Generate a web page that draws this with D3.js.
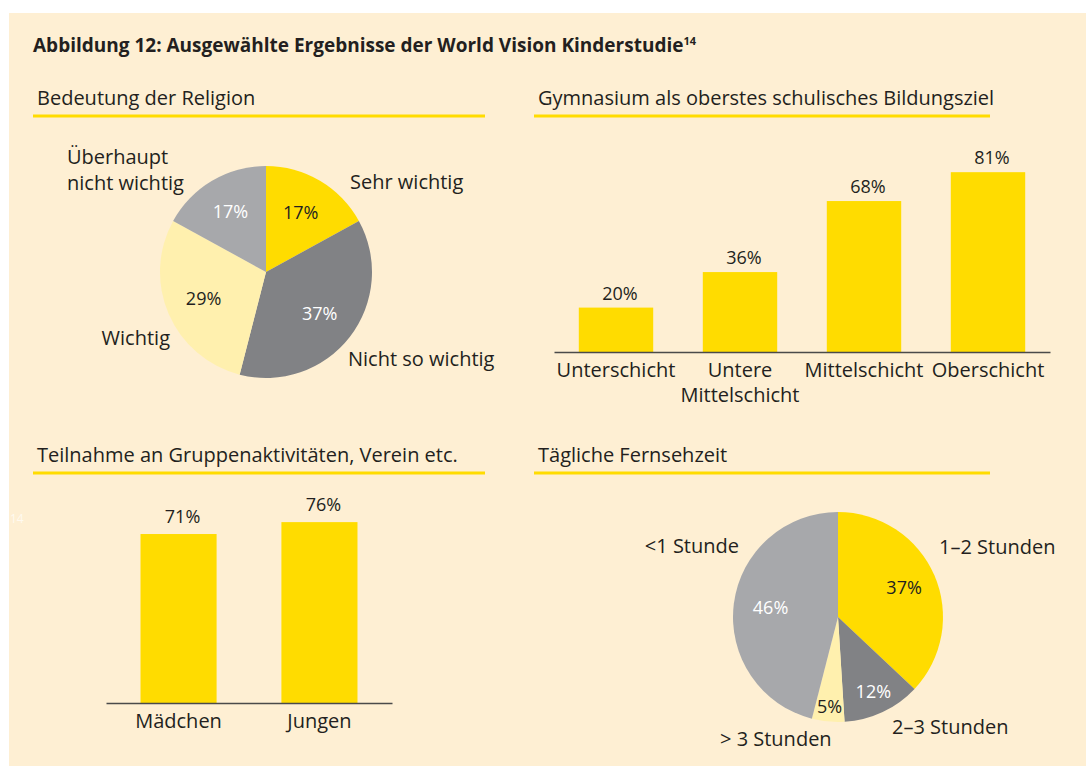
<!DOCTYPE html>
<html>
<head>
<meta charset="utf-8">
<script src="https://cdn.jsdelivr.net/npm/d3@7"></script>
<style>
  body { margin: 0; background: #fff; }
  svg text { font-family: "Open Sans", "Noto Sans", sans-serif; fill: #231f20; }
  .title { font-weight: bold; font-size: 19px; }
  .head { font-size: 20px; }
  .cat { font-size: 20px; }
  .val { font-size: 18px; }
  .axis path, .axis line { stroke: #4a4a4a; stroke-width: 1.5; }
</style>
</head>
<body>
<svg id="chart" width="1086" height="766"></svg>
<script>
// data
var religionLabels = ["Sehr wichtig", "Nicht so wichtig", "Wichtig", "Überhaupt\nnicht wichtig"];
var religionValues = [17, 37, 29, 17];

var schichtLabels = ["Unterschicht", "Untere\nMittelschicht", "Mittelschicht", "Oberschicht"];
var schichtValues = [20, 36, 68, 81];

var gruppeLabels = ["Mädchen", "Jungen"];
var gruppeValues = [71, 76];

var tvLabels = ["1–2 Stunden", "2–3 Stunden", "> 3 Stunden", "<1 Stunde"];
var tvValues = [37, 12, 5, 46];

var sliceColors = ["#ffdc00", "#818285", "#fff0ae", "#a7a8ab"];
var sliceText = ["#231f20", "#fff", "#231f20", "#fff"];

var svg = d3.select("#chart");

svg.append("rect")
  .attr("x", 9).attr("y", 13)
  .attr("width", 1077).attr("height", 753)
  .attr("fill", "#feefd3");

svg.append("text")
  .attr("class", "title")
  .attr("x", 33).attr("y", 52)
  .text("Abbildung 12: Ausgewählte Ergebnisse der World Vision Kinderstudie")
  .append("tspan")
  .attr("dy", -7).attr("font-size", "11px")
  .text("14");

// stray page number showing through
svg.append("text")
  .attr("x", 10).attr("y", 523)
  .attr("font-family", "DejaVu Serif")
  .style("font-size", "12px")
  .style("fill", "#fffaf0")
  .text("14");

function heading(x, y, w, txt) {
  svg.append("text").attr("class", "head").attr("x", x + 4).attr("y", y).text(txt);
  svg.append("line")
    .attr("x1", x).attr("x2", x + w)
    .attr("y1", y + 11).attr("y2", y + 11)
    .attr("stroke", "#ffdc00").attr("stroke-width", 3);
}

heading(33, 105, 452, "Bedeutung der Religion");
heading(534, 105, 456, "Gymnasium als oberstes schulisches Bildungsziel");
heading(33, 462, 452, "Teilnahme an Gruppenaktivitäten, Verein etc.");
heading(534, 462, 456, "Tägliche Fernsehzeit");

function multiLine(sel, txt, lh) {
  txt.split("\n").forEach(function (t, i) {
    sel.append("tspan").attr("x", sel.attr("x")).attr("dy", i ? lh : 0).text(t);
  });
}

// pies
function drawPie(cx, cy, r, labels, values, pctR, outer) {
  var g = svg.append("g").attr("transform", "translate(" + cx + "," + cy + ")");
  var pie = d3.pie().sort(null).value(function (d) { return d; });
  var arcs = pie(values);
  var arc = d3.arc().innerRadius(0).outerRadius(r);

  g.selectAll("path.slice")
    .data(arcs).enter().append("path")
    .attr("class", "slice")
    .attr("d", arc)
    .attr("fill", function (d, i) { return sliceColors[i]; });

  g.selectAll("text.pct")
    .data(arcs).enter().append("text")
    .attr("class", "val")
    .attr("text-anchor", "middle")
    .attr("transform", function (d, i) {
      var c = d3.arc().innerRadius(pctR[i]).outerRadius(pctR[i]).centroid(d);
      return "translate(" + c[0] + "," + (c[1] + 6) + ")";
    })
    .style("fill", function (d, i) { return sliceText[i]; })
    .text(function (d) { return d.data + "%"; });

  arcs.forEach(function (d, i) {
    var o = outer[i];
    var t = g.append("text").attr("class", "cat")
      .attr("x", o[0]).attr("y", o[1])
      .attr("text-anchor", o[2]);
    multiLine(t, labels[i], 26);
  });
}

drawPie(266, 272, 106, religionLabels, religionValues, [68, 68, 68, 70],
  [[84, -83, "start"], [82, 94, "start"], [-96, 73, "end"], [-199, -108, "start"]]);

drawPie(838, 617, 105, tvLabels, tvValues, [72, 83, 90, 68],
  [[101, -63, "start"], [54, 117, "start"], [-118, 129, "start"], [-99, -64, "end"]]);

// bars
function drawBars(x0, x1, base, top, labels, values, pin, pout, valOff) {
  var x = d3.scaleBand().domain(labels).range([x0, x1])
    .paddingInner(pin).paddingOuter(pout);
  var y = d3.scaleLinear().domain([0, 100]).range([base, top]);
  var g = svg.append("g");

  g.selectAll("rect")
    .data(values).enter().append("rect")
    .attr("x", function (d, i) { return x(labels[i]); })
    .attr("y", function (d) { return y(d); })
    .attr("width", x.bandwidth())
    .attr("height", function (d) { return base - y(d); })
    .attr("fill", "#ffdc00");

  g.selectAll("text.v")
    .data(values).enter().append("text")
    .attr("class", "val")
    .attr("text-anchor", "middle")
    .attr("x", function (d, i) { return x(labels[i]) + x.bandwidth() / 2 + 4; })
    .attr("y", function (d) { return y(d) - valOff; })
    .text(function (d) { return d + "%"; });

  g.append("g")
    .attr("class", "axis")
    .attr("transform", "translate(0," + base + ")")
    .call(d3.axisBottom(x).tickSize(0).tickSizeOuter(0).tickFormat(""));

  labels.forEach(function (l) {
    var t = g.append("text").attr("class", "cat")
      .attr("text-anchor", "middle")
      .attr("x", x(l) + x.bandwidth() / 2)
      .attr("y", base + 25);
    multiLine(t, l, 25);
  });
}

drawBars(554, 1050, 352, 130, schichtLabels, schichtValues, 0.4, 0.2, 8);
drawBars(106, 392, 703, 465, gruppeLabels, gruppeValues, 0.46, 0.245, 11);
</script>
</body>
</html>
